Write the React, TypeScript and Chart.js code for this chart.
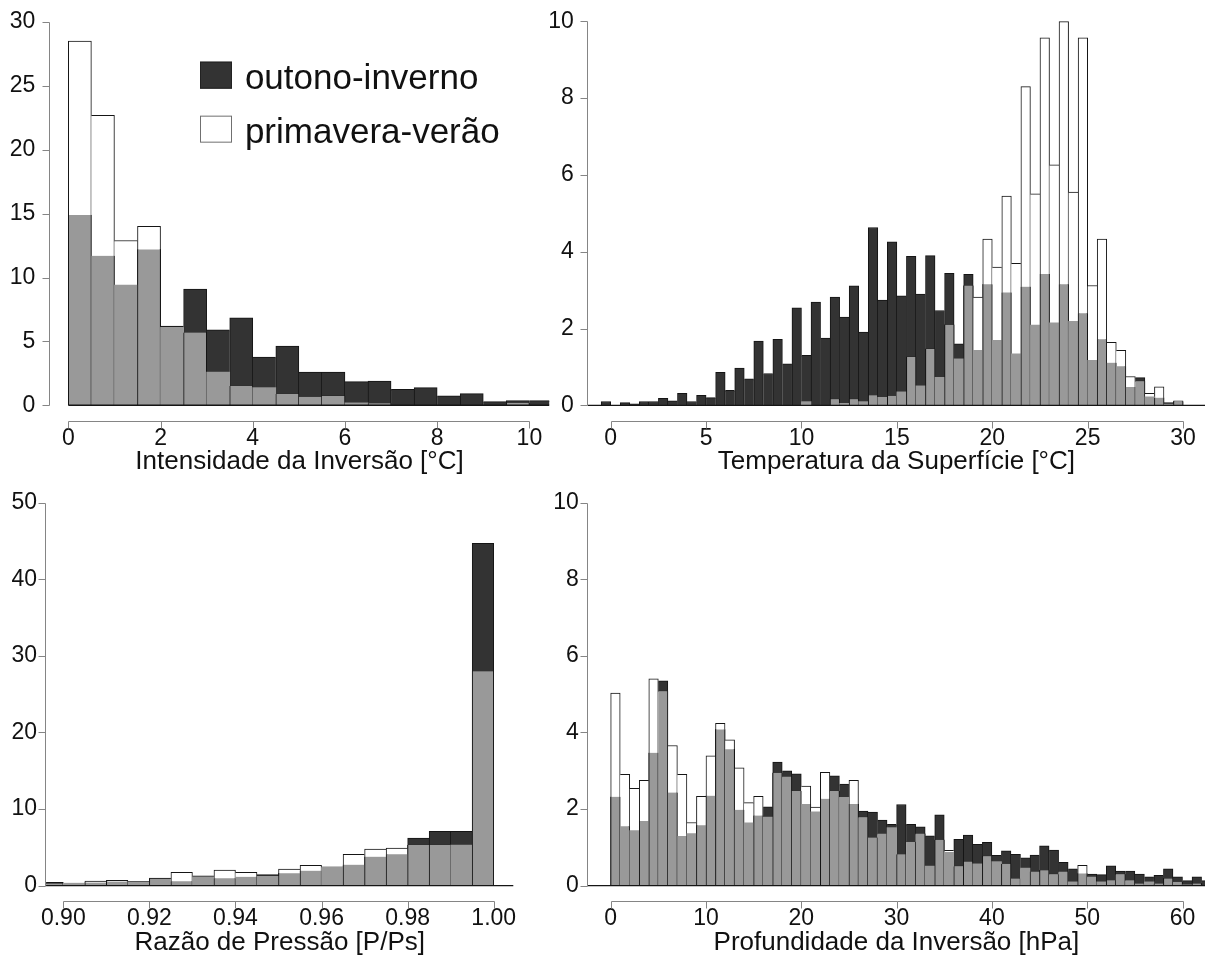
import React, { useEffect, useRef } from 'react';
import { Chart, registerables } from 'chart.js';

Chart.register(...registerables);

const FONT = '"Liberation Sans", Arial, Helvetica, sans-serif';
Chart.defaults.font.family = FONT;
Chart.defaults.color = '#111111';

// ---------------- Data ----------------
const seriesNames = ['outono-inverno', 'primavera-verão'];

// Intensidade da Inversão [°C] (bins of 0.5 starting at 0)
const intensBinStart = 0;
const intensBinWidth = 0.5;
const intensOutonoInverno = [14.9, 11.7, 9.4, 12.2, 6.2, 9.1, 5.9, 6.85, 3.78, 4.64, 2.6, 2.6, 1.85, 1.9, 1.25, 1.38, 0.73, 0.91, 0.28, 0.36, 0.36];
const intensPrimaveraVerao = [28.5, 22.7, 12.9, 14.0, 6.1, 5.7, 2.6, 1.5, 1.38, 0.88, 0.67, 0.73, 0.2, 0.15, 0, 0, 0, 0, 0, 0.2, 0];
const intensXTicks = [0, 2, 4, 6, 8, 10];
const intensYTicks = [0, 5, 10, 15, 20, 25, 30];

// Temperatura da Superfície [°C] (bins of 0.5 starting at -0.5)
const tempBinStart = -0.5;
const tempBinWidth = 0.5;
const tempOutonoInverno = [
  0.10, 0.00, 0.07, 0.04, 0.10, 0.10, 0.18, 0.12, 0.31, 0.10,
  0.26, 0.20, 0.86, 0.39, 0.97, 0.69, 1.67, 0.83, 1.72, 1.08,
  2.54, 1.30, 2.69, 1.75, 2.82, 2.30, 3.11, 1.91, 4.63, 2.74,
  4.26, 2.85, 3.88, 2.90, 3.90, 2.47, 3.44, 1.60, 3.41, 1.43,
  3.15, 1.69, 2.94, 1.34, 3.09, 2.09, 3.42, 2.15, 3.15, 2.19,
  2.40, 1.17, 1.72, 1.11, 1.02, 0.48, 0.72, 0.22, 0.20, 0.07,
  0.10,
];
const tempPrimaveraVerao = [
  0, 0, 0, 0, 0, 0, 0, 0, 0, 0,
  0, 0, 0, 0, 0, 0, 0, 0, 0, 0,
  0, 0.10, 0, 0, 0.16, 0.05, 0.16, 0.10, 0.26, 0.21,
  0.25, 0.35, 1.26, 0.51, 1.47, 0.73, 2.10, 1.21, 3.12, 2.82,
  4.33, 3.60, 5.45, 3.70, 8.30, 5.51, 9.57, 6.26, 9.99, 5.55,
  9.57, 3.12, 4.33, 1.64, 1.43, 0.75, 0.63, 0.31, 0.48, 0.03,
  0.12,
];
const tempXTicks = [0, 5, 10, 15, 20, 25, 30];
const tempYTicks = [0, 2, 4, 6, 8, 10];

// Razão de Pressão [P/Ps] (bins of 0.005 starting at 0.895)
const presBinStart = 0.895;
const presBinWidth = 0.005;
const presOutonoInverno = [0.45, 0.35, 0.40, 0.55, 0.57, 1.00, 0.57, 1.30, 0.96, 1.17, 1.44, 1.61, 1.96, 2.45, 2.74, 3.79, 4.09, 6.22, 7.09, 7.09, 44.7];
const presPrimaveraVerao = [0.30, 0.30, 0.60, 0.70, 0.50, 0.92, 1.74, 1.15, 2.05, 1.74, 1.22, 2.18, 2.65, 2.40, 4.09, 4.79, 4.92, 5.31, 5.31, 5.31, 28.0];
const presXTicks = [0.90, 0.92, 0.94, 0.96, 0.98, 1.00];
const presYTicks = [0, 10, 20, 30, 40, 50];

// Profundidade da Inversão [hPa] (bins of 1 starting at 0)
const profBinStart = 0;
const profBinWidth = 1;
const profOutonoInverno = [
  2.32, 1.55, 1.44, 1.69, 3.47, 5.35, 2.43, 1.30, 1.36, 1.58,
  2.35, 4.08, 3.56, 1.98, 1.64, 1.83, 2.06, 3.23, 3.00, 2.92,
  2.13, 1.93, 2.27, 2.87, 2.65, 2.13, 1.95, 1.92, 1.71, 1.60,
  2.12, 1.60, 1.54, 1.30, 1.85, 0.87, 1.21, 1.32, 1.08, 1.13,
  0.79, 0.91, 0.82, 0.73, 0.80, 1.04, 0.93, 0.61, 0.44, 0.32,
  0.30, 0.29, 0.52, 0.38, 0.38, 0.30, 0.23, 0.27, 0.44, 0.23,
  0.13, 0.23, 0.13,
];
const profPrimaveraVerao = [
  5.03, 2.91, 2.54, 2.75, 5.40, 5.08, 3.66, 2.91, 1.65, 2.33,
  3.39, 4.24, 3.81, 3.08, 2.17, 2.33, 1.79, 2.95, 2.85, 2.47,
  2.60, 2.05, 2.96, 2.47, 2.31, 2.75, 1.79, 1.26, 1.36, 1.52,
  0.82, 1.15, 1.36, 0.51, 1.20, 0.92, 0.51, 0.63, 0.57, 0.77,
  0.63, 0.57, 0.19, 0.46, 0.37, 0.40, 0.30, 0.37, 0.10, 0.53,
  0.24, 0.10, 0.14, 0.30, 0.14, 0.06, 0.10, 0.06, 0.19, 0.10,
  0.02, 0.06, 0.00,
];
const profXTicks = [0, 10, 20, 30, 40, 50, 60];
const profYTicks = [0, 2, 4, 6, 8, 10];

// ---------------- Styling / layout ----------------
const COLOR_DARK = '#333333';
const COLOR_WHITE = '#ffffff';
const COLOR_OVERLAP = '#999999';
const COLOR_EDGE = '#151515';
const COLOR_AXIS = '#858585';

const Y_AXIS_W = 50;
const X_AXIS_H = 57;

type PanelCfg = {
  key: string;
  title: string;
  binStart: number;
  binWidth: number;
  dark: number[];
  white: number[];
  xTicks: number[];
  yTicks: number[];
  xRange: [number, number];
  yRange: [number, number];
  area: { l: number; t: number; r: number; b: number };
  yLabelGap: number;
  xLabelGap: number;
  baseline: [number, number];
  xFmt: (v: number) => string;
  legend?: boolean;
};

const panels: PanelCfg[] = [
  {
    key: 'intens', title: 'Intensidade da Inversão [°C]',
    binStart: intensBinStart, binWidth: intensBinWidth,
    dark: intensOutonoInverno, white: intensPrimaveraVerao,
    xTicks: intensXTicks, yTicks: intensYTicks,
    xRange: [-0.4, 10.43], yRange: [-1.2, 31.2],
    area: { l: 49.9, t: 6.66, r: 549.2, b: 420.6 },
    yLabelGap: 14.5, xLabelGap: 4, baseline: [0, 10.5],
    xFmt: (v) => String(v), legend: true,
  },
  {
    key: 'temp', title: 'Temperatura da Superfície [°C]',
    binStart: tempBinStart, binWidth: tempBinWidth,
    dark: tempOutonoInverno, white: tempPrimaveraVerao,
    xTicks: tempXTicks, yTicks: tempYTicks,
    xRange: [-1.2, 31.15], yRange: [-0.4, 10.4],
    area: { l: 587.8, t: 5.9, r: 1205, b: 420.7 },
    yLabelGap: 14, xLabelGap: 4, baseline: [-1.2, 31.2],
    xFmt: (v) => String(v),
  },
  {
    key: 'pres', title: 'Razão de Pressão [P/Ps]',
    binStart: presBinStart, binWidth: presBinWidth,
    dark: presOutonoInverno, white: presPrimaveraVerao,
    xTicks: presXTicks, yTicks: presYTicks,
    xRange: [0.896, 1.00455], yRange: [-2, 52],
    area: { l: 46.1, t: 487.4, r: 513.3, b: 901 },
    yLabelGap: 9, xLabelGap: 3.5, baseline: [0.896, 1.01],
    xFmt: (v) => v.toFixed(2),
  },
  {
    key: 'prof', title: 'Profundidade da Inversão [hPa]',
    binStart: profBinStart, binWidth: profBinWidth,
    dark: profOutonoInverno, white: profPrimaveraVerao,
    xTicks: profXTicks, yTicks: profYTicks,
    xRange: [-2.4, 62.36], yRange: [-0.4, 10.4],
    area: { l: 587.8, t: 487.4, r: 1205, b: 901 },
    yLabelGap: 9, xLabelGap: 3.5, baseline: [-2.4, 63],
    xFmt: (v) => String(v),
  },
];

// R-like axes, baseline and in-plot legend
const rStylePlugin = {
  id: 'rStyle',
  afterDatasetsDraw(chart: any, _args: any, opts: any) {
    const { ctx, chartArea: a } = chart;
    const x = chart.scales.x;
    const y = chart.scales.y;
    ctx.save();

    // baseline of the histogram
    const y0 = y.getPixelForValue(0);
    const bx0 = Math.max(a.left, x.getPixelForValue(opts.baseline[0]));
    const bx1 = Math.min(a.right, x.getPixelForValue(opts.baseline[1]));
    ctx.strokeStyle = COLOR_EDGE;
    ctx.lineWidth = 1.3;
    ctx.beginPath();
    ctx.moveTo(bx0, y0);
    ctx.lineTo(bx1, y0);
    ctx.stroke();

    // axes (line from first to last tick, outward tick marks)
    ctx.strokeStyle = COLOR_AXIS;
    ctx.lineWidth = 1;
    const xs = x.ticks.map((t: any) => Math.round(x.getPixelForValue(t.value)) + 0.5);
    const yb = Math.round(a.bottom) + 0.5;
    ctx.beginPath();
    ctx.moveTo(xs[0], yb);
    ctx.lineTo(xs[xs.length - 1], yb);
    xs.forEach((px: number) => { ctx.moveTo(px, yb); ctx.lineTo(px, yb + 7); });
    const ys = y.ticks.map((t: any) => Math.round(y.getPixelForValue(t.value)) + 0.5);
    const xl = Math.round(a.left) - 0.5;
    ctx.moveTo(xl, ys[0]);
    ctx.lineTo(xl, ys[ys.length - 1]);
    ys.forEach((py: number) => { ctx.moveTo(xl - 7, py); ctx.lineTo(xl, py); });
    ctx.stroke();

    // legend
    if (opts.legend) {
      const L = opts.legend;
      for (let i = 0; i < 2; i++) {
        const ds = chart.data.datasets[i];
        const bx = a.left + L.dx;
        const by = a.top + L.dy + i * L.rowH;
        ctx.fillStyle = ds.backgroundColor;
        ctx.fillRect(bx, by, L.w, L.h);
        ctx.strokeStyle = i === 0 ? '#222222' : '#707070';
        ctx.lineWidth = 1;
        ctx.strokeRect(bx + 0.5, by + 0.5, L.w - 1, L.h - 1);
        ctx.fillStyle = '#111111';
        ctx.font = `${L.fontSize}px ${FONT}`;
        ctx.textBaseline = 'alphabetic';
        ctx.textAlign = 'left';
        ctx.fillText(ds.label, a.left + L.textDx, by + L.h);
      }
    }
    ctx.restore();
  },
};

function HistPanel({ cfg }: { cfg: PanelCfg }) {
  const ref = useRef<HTMLCanvasElement>(null);

  const marginL = 60, marginT = 40, marginR = 40, marginB = 80;
  const cLeft = Math.floor(cfg.area.l) - marginL;
  const cTop = Math.floor(cfg.area.t) - marginT;
  const cWidth = Math.ceil(cfg.area.r) + marginR - cLeft;
  const cHeight = Math.ceil(cfg.area.b) + marginB - cTop;

  useEffect(() => {
    const canvas = ref.current;
    if (!canvas) return;
    const n = cfg.dark.length;
    const centers = cfg.dark.map((_, i) => cfg.binStart + cfg.binWidth * (i + 0.5));
    const darkPts = cfg.dark.map((v, i) => ({ x: centers[i], y: v }));
    const whitePts = cfg.white.map((v, i) => ({ x: centers[i], y: v }));
    const overlapPts = cfg.dark.map((v, i) => ({ x: centers[i], y: Math.min(v, cfg.white[i]) }));
    // total bar height of each bin decides which neighbour owns the shared edge line
    const tops = cfg.dark.map((v, i) => Math.max(v, cfg.white[i]));
    const ownsLeft = (i: number) => i === 0 || tops[i] > tops[i - 1];
    const ownsRight = (i: number) => i === n - 1 || tops[i] >= tops[i + 1];

    const edgeBorder = (ctx: any) => ({
      left: ownsLeft(ctx.dataIndex) ? 1 : 0,
      top: 1,
      right: ownsRight(ctx.dataIndex) ? 1 : 0,
      bottom: 0,
    });
    const overlapBorder = (ctx: any) => ({
      left: ownsLeft(ctx.dataIndex) ? 1 : 0,
      top: 0,
      right: ownsRight(ctx.dataIndex) ? 1 : 0,
      bottom: 0,
    });

    const common = {
      grouped: false,
      barPercentage: 1,
      categoryPercentage: 1,
      borderColor: COLOR_EDGE,
      borderSkipped: false,
      clip: 0,
    };

    const padding = {
      left: cfg.area.l - cLeft - Y_AXIS_W,
      top: cfg.area.t - cTop,
      right: cWidth - (cfg.area.r - cLeft),
      bottom: cHeight - (cfg.area.b - cTop) - X_AXIS_H,
    };

    const chart = new Chart(canvas, {
      type: 'bar',
      data: {
        datasets: [
          { ...common, label: seriesNames[0], data: darkPts, backgroundColor: COLOR_DARK, borderWidth: edgeBorder, order: 3 } as any,
          { ...common, label: seriesNames[1], data: whitePts, backgroundColor: COLOR_WHITE, borderWidth: edgeBorder, order: 2 } as any,
          { ...common, label: 'sobreposição', data: overlapPts, backgroundColor: COLOR_OVERLAP, borderWidth: overlapBorder, order: 1 } as any,
        ],
      },
      options: {
        responsive: false,
        animation: false,
        devicePixelRatio: 1,
        events: [],
        layout: { padding },
        plugins: {
          legend: { display: false },
          tooltip: { enabled: false },
          rStyle: {
            baseline: cfg.baseline,
            legend: cfg.legend
              ? { dx: 150.1, dy: 55, rowH: 54, w: 32, h: 27, textDx: 195, fontSize: 35 }
              : null,
          },
        } as any,
        scales: {
          x: {
            type: 'linear',
            min: cfg.xRange[0],
            max: cfg.xRange[1],
            offset: false,
            grid: { display: false, drawTicks: false },
            border: { display: false },
            afterBuildTicks: (s: any) => { s.ticks = cfg.xTicks.map((v) => ({ value: v })); },
            afterFit: (s: any) => { s.height = X_AXIS_H; },
            ticks: {
              autoSkip: false,
              maxRotation: 0,
              minRotation: 0,
              padding: cfg.xLabelGap,
              color: '#111111',
              font: { size: 23 },
              callback: (v: any) => cfg.xFmt(Number(v)),
            },
            title: {
              display: true,
              text: cfg.title,
              color: '#111111',
              font: { size: 26 },
              padding: 0,
            },
          },
          y: {
            type: 'linear',
            min: cfg.yRange[0],
            max: cfg.yRange[1],
            grid: { display: false, drawTicks: false },
            border: { display: false },
            afterBuildTicks: (s: any) => { s.ticks = cfg.yTicks.map((v) => ({ value: v })); },
            afterFit: (s: any) => { s.width = Y_AXIS_W; },
            ticks: {
              autoSkip: false,
              padding: cfg.yLabelGap,
              color: '#111111',
              font: { size: 23 },
              callback: (v: any) => String(v),
            },
          },
        },
      } as any,
      plugins: [rStylePlugin as any],
    });
    return () => chart.destroy();
  }, []);

  return (
    <canvas
      ref={ref}
      width={cWidth}
      height={cHeight}
      style={{ position: 'absolute', left: cLeft, top: cTop, width: cWidth, height: cHeight }}
    />
  );
}

export default function App() {
  return (
    <div
      style={{
        position: 'absolute',
        left: 0,
        top: 0,
        width: 1205,
        height: 957,
        overflow: 'hidden',
        background: '#ffffff',
      }}
    >
      {panels.map((p) => (
        <HistPanel key={p.key} cfg={p} />
      ))}
    </div>
  );
}
